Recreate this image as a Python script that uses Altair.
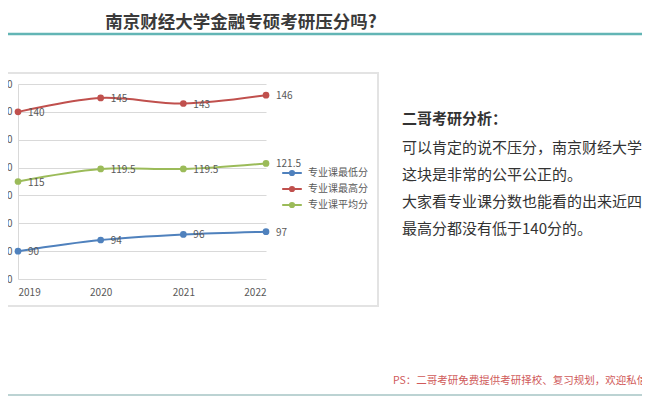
import altair as alt
import pandas as pd

# ---------------- data ----------------
years = [2019, 2020, 2021, 2022]
series_names = ["专业课最低分", "专业课最高分", "专业课平均分"]
min_scores = [90, 94, 96, 97]
max_scores = [140, 145, 143, 146]
avg_scores = [115, 119.5, 119.5, 121.5]
series_colors = ["#4f81bd", "#c0504d", "#9bbb59"]
y_ticks = [80, 90, 100, 110, 120, 130, 140, 150]

title_text = "南京财经大学金融专硕考研压分吗?"
heading_text = "二哥考研分析："
body_lines = [
    "可以肯定的说不压分，南京财经大学在",
    "这块是非常的公平公正的。",
    "大家看专业课分数也能看的出来近四年",
    "最高分都没有低于140分的。",
]
ps_text = "PS：二哥考研免费提供考研择校、复习规划，欢迎私信"

rows = []
for name, vals in zip(series_names, [min_scores, max_scores, avg_scores]):
    for yr, v in zip(years, vals):
        rows.append({"year": yr, "score": v, "series": name, "label": f"{v:g}"})
df = pd.DataFrame(rows)

FONT = "Noto Sans CJK SC"
W, H = 634, 390

x_enc = alt.X(
    "year:Q",
    scale=alt.Scale(domain=[2019, 2022], range=[10, 258], nice=False, zero=False),
    axis=alt.Axis(
        values=years, format="d", grid=False, domain=False, ticks=False,
        offset=-(H - 271), labelPadding=8, labelFontSize=10, labelColor="#595959",
        labelFont=FONT, title=None,
    ),
)
y_enc = alt.Y(
    "score:Q",
    scale=alt.Scale(domain=[80, 150], range=[271, 76], nice=False, zero=False),
    axis=alt.Axis(
        values=y_ticks, grid=True, gridColor="#d9d9d9", domain=True, domainColor="#d9d9d9",
        ticks=False, offset=-10, labelPadding=6, labelFontSize=10, labelColor="#595959",
        labelFont=FONT, title=None,
    ),
)
color_enc = alt.Color(
    "series:N",
    scale=alt.Scale(domain=series_names, range=series_colors),
    sort=series_names,
    legend=alt.Legend(
        title=None, orient="none", legendX=276, legendY=157,
        symbolType="M-1.4,0H1.4M-0.3,0a0.3,0.3 0 1,0 0.6,0a0.3,0.3 0 1,0 -0.6,0M-0.12,0a0.12,0.12 0 1,0 0.24,0a0.12,0.12 0 1,0 -0.24,0",
        symbolSize=196, symbolStrokeWidth=2, labelFontSize=10, labelColor="#595959",
        labelFont=FONT, rowPadding=1, labelOffset=8,
    ),
)

one = pd.DataFrame({"k": [0]})

box = alt.Chart(one).mark_rect(filled=False, stroke="#e3e3e3", strokeWidth=2).encode(
    x=alt.value(-8), x2=alt.value(370), y=alt.value(65), y2=alt.value(298)
)

lines = alt.Chart(df).mark_line(interpolate="catmull-rom", strokeWidth=2).encode(
    x=x_enc, y=y_enc, color=color_enc
)
points = alt.Chart(df).mark_point(filled=True, size=45, opacity=1).encode(
    x="year:Q", y="score:Q",
    color=alt.Color("series:N", scale=alt.Scale(domain=series_names, range=series_colors), legend=None),
)
labels = alt.Chart(df).mark_text(
    align="left", baseline="middle", dx=10, dy=1, fontSize=10, color="#595959", font=FONT
).encode(x="year:Q", y="score:Q", text="label:N")

title = alt.Chart(one).mark_text(
    text=title_text, font=FONT, fontSize=17.5, fontWeight="bold", color="#3a3a3a",
    align="center", baseline="middle",
).encode(x=alt.value(233), y=alt.value(15))

top_rule = alt.Chart(one).mark_rule(color="#62b5b5", strokeWidth=2.5).encode(
    x=alt.value(-8), x2=alt.value(W + 8), y=alt.value(26)
)
bottom_rule = alt.Chart(one).mark_rule(color="#bcd3d3", strokeWidth=2).encode(
    x=alt.value(-8), x2=alt.value(W + 8), y=alt.value(387)
)

heading = alt.Chart(one).mark_text(
    text=heading_text, font=FONT, fontSize=15, fontWeight="bold", color="#333333",
    align="left", baseline="middle",
).encode(x=alt.value(394), y=alt.value(111))

body = alt.Chart(one).mark_text(
    text=body_lines, font=FONT, fontSize=15, color="#333333", lineHeight=27,
    align="left", baseline="middle",
).encode(x=alt.value(394), y=alt.value(140))

ps = alt.Chart(one).mark_text(
    text=ps_text, font=FONT, fontSize=10.5, color="#d05a5a",
    align="left", baseline="middle",
).encode(x=alt.value(385), y=alt.value(373))

chart = alt.layer(
    box, lines, points, labels, title, top_rule, bottom_rule, heading, body, ps
).properties(
    width=W, height=H, autosize=alt.AutoSizeParams(type="none"), padding=0,
    background="white",
).configure_view(stroke=None)

chart.save("out.html", embed_options={"renderer": "svg", "actions": False})
